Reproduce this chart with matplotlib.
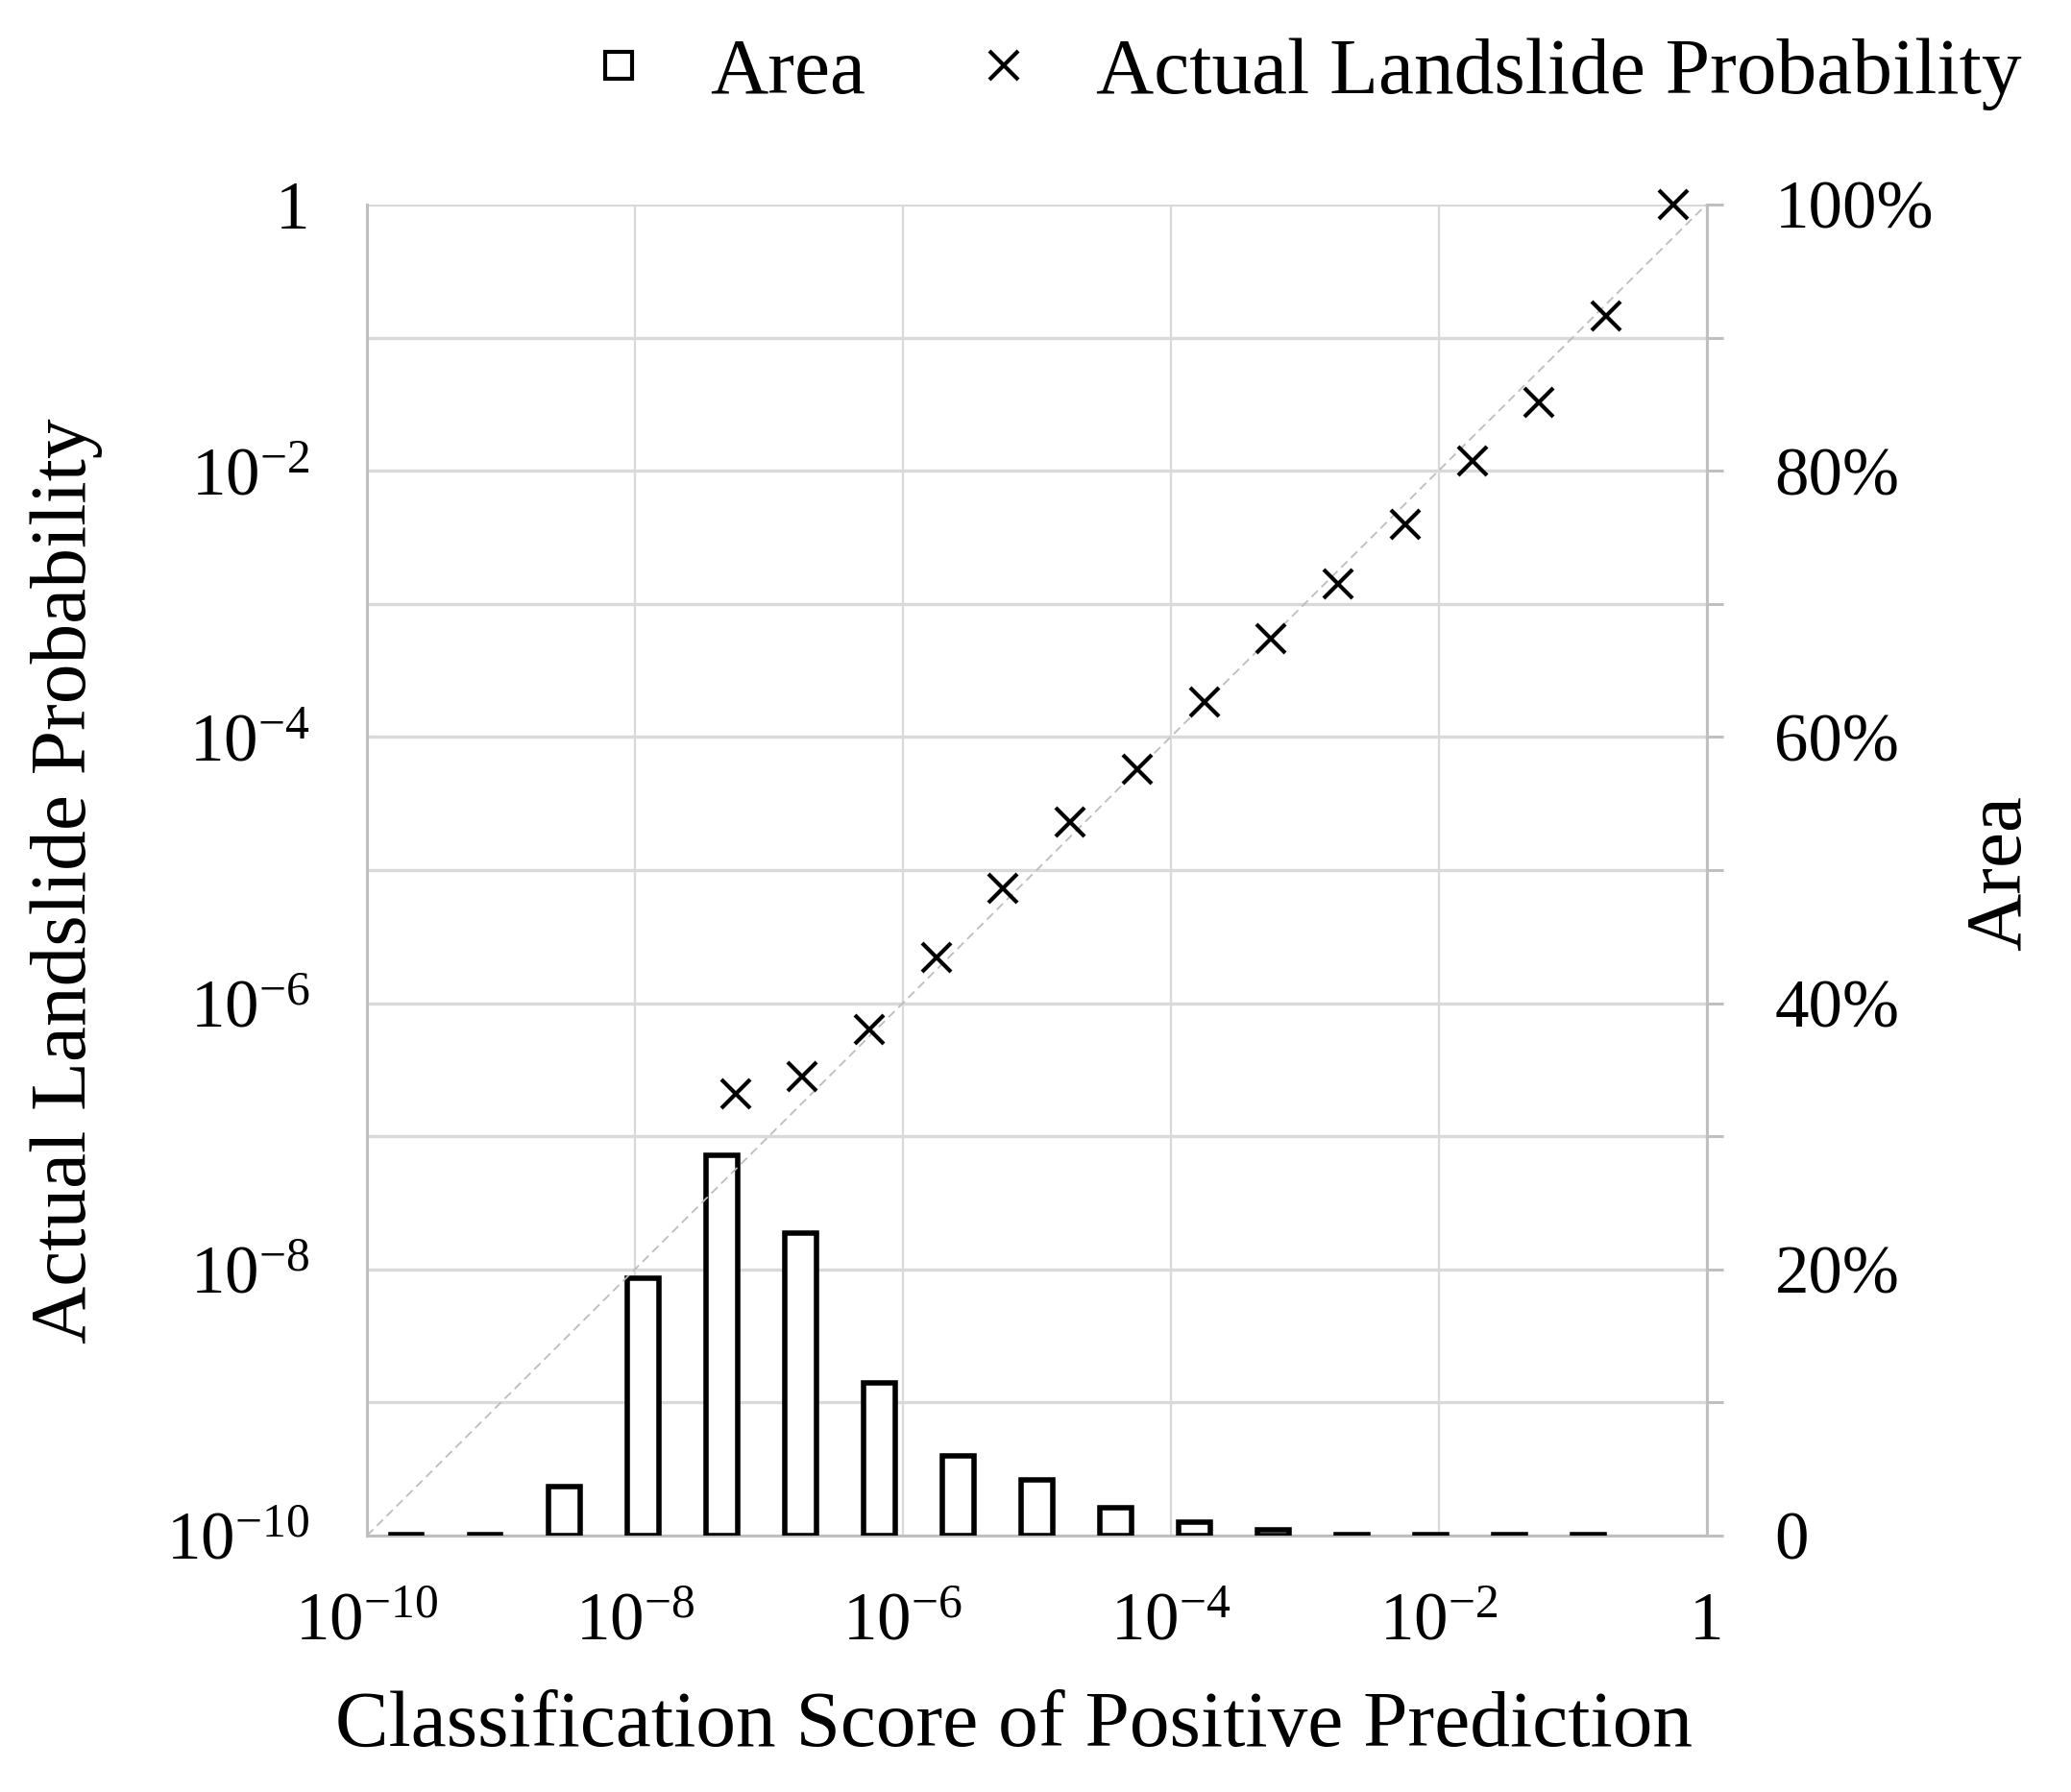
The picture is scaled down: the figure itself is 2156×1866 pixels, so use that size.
import numpy as np
import matplotlib
matplotlib.use("Agg")
import matplotlib.pyplot as plt
from matplotlib.ticker import FixedLocator, FixedFormatter, NullLocator
from matplotlib.lines import Line2D

plt.rcParams['font.family'] = ['Liberation Serif', 'DejaVu Serif']
plt.rcParams['mathtext.fontset'] = 'custom'
plt.rcParams['mathtext.rm'] = 'Liberation Serif'
plt.rcParams['mathtext.it'] = 'Liberation Serif:italic'
plt.rcParams['mathtext.bf'] = 'Liberation Serif:bold'

# --- data ---
# area histogram (secondary axis), 17 score bins, last one empty
area_bins = list(range(16))
area_pct = [0.1, 0.1, 3.7, 19.3, 28.6, 22.7, 11.5, 6.0, 4.2, 2.1, 1.0, 0.4, 0.1, 0.1, 0.1, 0.1]
n_slots = 17

# actual landslide probability vs classification score (log10 values)
score_log = [-7.25, -6.75, -6.25, -5.75, -5.25, -4.75, -4.25, -3.75, -3.25,
             -2.75, -2.25, -1.75, -1.25, -0.75, -0.25]
prob_log = [-6.68, -6.55, -6.20, -5.66, -5.14, -4.64, -4.24, -3.74, -3.26,
            -2.85, -2.40, -1.93, -1.49, -0.84, 0.0]

decades = [-10, -9, -8, -7, -6, -5, -4, -3, -2, -1, 0]
x_tick_pos = [-10, -8, -6, -4, -2, 0]
x_tick_labels = [r'$10^{-10}$', r'$10^{-8}$', r'$10^{-6}$', r'$10^{-4}$', r'$10^{-2}$', '1']
y_tick_labels = [r'$10^{-10}$', '', r'$10^{-8}$', '', r'$10^{-6}$', '', r'$10^{-4}$', '',
                 r'$10^{-2}$', '', '1']
pct_ticks = [0, 10, 20, 30, 40, 50, 60, 70, 80, 90, 100]
pct_labels = ['0', '', '20%', '', '40%', '', '60%', '', '80%', '', '100%']

grid_c = '#d9d9d9'
spine_c = '#bfbfbf'
tick_fs = 51
label_fs = 60

fig = plt.figure(figsize=(21.56, 18.66), dpi=100)
rect = [0.1772, 0.1431, 0.6468, 0.7428]

# base axes: log-log with grid and left / bottom labels
ax = fig.add_axes(rect, zorder=0)
ax.set_xscale('log')
ax.set_yscale('log')
ax.set_xlim(1e-10, 1)
ax.set_ylim(1e-10, 1)
ax.xaxis.set_major_locator(FixedLocator([10.0 ** p for p in x_tick_pos]))
ax.xaxis.set_major_formatter(FixedFormatter(x_tick_labels))
ax.xaxis.set_minor_locator(NullLocator())
ax.yaxis.set_major_locator(FixedLocator([10.0 ** p for p in decades]))
ax.yaxis.set_major_formatter(FixedFormatter(y_tick_labels))
ax.yaxis.set_minor_locator(NullLocator())
ax.grid(True, axis='x', color=grid_c, lw=1.6)
ax.grid(True, axis='y', color=grid_c, lw=2.4)
ax.set_axisbelow(True)
ax.tick_params(axis='x', length=0, pad=42, labelsize=tick_fs)
ax.tick_params(axis='y', length=0, pad=43, labelsize=tick_fs)
for side in ['left', 'bottom', 'right']:
    ax.spines[side].set_color(spine_c)
    ax.spines[side].set_linewidth(2.2)
ax.spines['top'].set_visible(False)

# bars on a secondary axes
axb = fig.add_axes(rect, zorder=1, facecolor='none')
axb.bar(area_bins, area_pct, width=0.4, color='white', edgecolor='black', linewidth=4)
axb.set_xlim(-0.5, n_slots - 0.5)
axb.set_ylim(0, 100)
axb.xaxis.set_visible(False)
axb.yaxis.tick_right()
axb.yaxis.set_major_locator(FixedLocator(pct_ticks))
axb.yaxis.set_major_formatter(FixedFormatter(pct_labels))
axb.tick_params(axis='y', length=12, width=2.2, color=spine_c, direction='out',
                pad=39, labelsize=tick_fs)
for side in axb.spines:
    axb.spines[side].set_visible(False)

# markers + y = x reference on top
axm = fig.add_axes(rect, zorder=2, facecolor='none')
axm.set_xscale('log')
axm.set_yscale('log')
axm.set_xlim(1e-10, 1)
axm.set_ylim(1e-10, 1)
axm.plot([1e-10, 1], [1e-10, 1], color='#bdbdbd', lw=1.3, ls=(0, (5, 3)))
axm.plot(10.0 ** np.array(score_log), 10.0 ** np.array(prob_log), ls='none',
         marker='x', ms=22, mew=3, color='black', clip_on=False)
axm.set_axis_off()

# axis titles
ax.text(-0.2101, 0.4917, 'Actual Landslide Probability', transform=ax.transAxes,
        rotation=90, rotation_mode='anchor', ha='center', va='baseline', fontsize=label_fs)
ax.text(1.2341, 0.4978, 'Area', transform=ax.transAxes,
        rotation=90, rotation_mode='anchor', ha='center', va='baseline', fontsize=label_fs)
ax.text(0.483, -0.158, 'Classification Score of Positive Prediction', transform=ax.transAxes,
        ha='center', va='baseline', fontsize=label_fs)

# legend
handles = [Line2D([], [], ls='none', marker='s', ms=20, mfc='white', mec='black', mew=3),
           Line2D([], [], ls='none', marker='x', ms=21, mew=3, color='black')]
fig.legend(handles, ['Area', 'Actual Landslide Probability'], ncol=2, frameon=False,
           loc='center right', bbox_to_anchor=(0.976, 0.959), borderaxespad=0, borderpad=0,
           fontsize=label_fs, handlelength=1.0, handletextpad=0.65, columnspacing=1.22)

fig.savefig('out.png', dpi=100)
